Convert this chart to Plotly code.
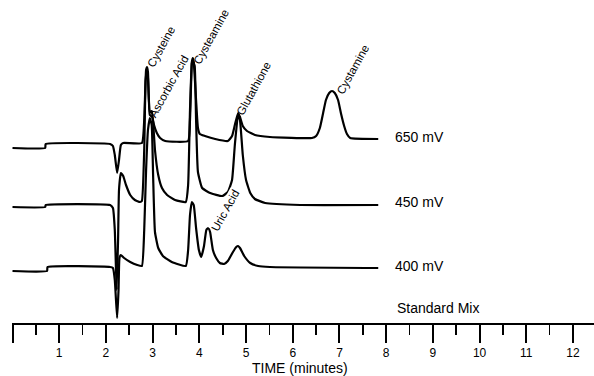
import plotly.graph_objects as go

# ---- data (time in minutes, detector signal in arbitrary units, offset per trace) ----
t_650 = [0.00, 0.70, 0.71, 2.09, 2.15, 2.19, 2.24, 2.28, 2.32, 2.37, 2.77, 2.82, 2.86, 2.88, 2.90,
         2.92, 2.94, 2.99, 3.03, 3.09, 3.16, 3.27, 3.76, 3.80, 3.84, 3.86, 3.88, 3.93, 3.97, 4.01,
         4.12, 4.34, 4.61, 4.70, 4.76, 4.83, 4.87, 4.93, 5.02, 5.19, 5.51, 6.41, 6.50, 6.58, 6.65,
         6.71, 6.78, 6.84, 6.90, 6.97, 7.03, 7.10, 7.16, 7.23, 7.83]
s_650 = [175, 175, 179, 179, 177, 168, 150, 163, 178, 180, 180, 203, 253, 256, 251,
         223, 208, 206, 198, 190, 185, 182, 182, 203, 261, 265, 261, 223, 195, 189,
         187, 184, 182, 187, 198, 210, 206, 197, 192, 188, 186, 185, 187, 195, 210,
         223, 230, 232, 230, 223, 210, 197, 189, 185, 184]

t_450 = [0.00, 0.70, 0.71, 2.09, 2.15, 2.19, 2.23, 2.26, 2.28, 2.32, 2.37, 2.43, 2.52, 2.62, 2.73,
         2.77, 2.82, 2.85, 2.88, 2.90, 2.94, 2.98, 3.01, 3.05, 3.12, 3.20, 3.31, 3.48, 3.71, 3.76,
         3.80, 3.84, 3.86, 3.90, 3.93, 3.97, 4.06, 4.23, 4.49, 4.61, 4.70, 4.76, 4.83, 4.87, 4.93,
         5.00, 5.09, 5.19, 5.41, 6.16, 7.83]
s_450 = [116, 116, 118, 118, 115, 93, 33, 83, 133, 150, 147, 138, 128, 123, 121,
         122, 173, 243, 253, 245, 211, 212, 201, 173, 148, 135, 128, 123, 121, 138,
         213, 260, 262, 257, 203, 151, 135, 130, 127, 131, 143, 178, 209, 203, 168,
         143, 130, 124, 120, 118, 118]

t_400 = [0.00, 0.74, 0.75, 2.09, 2.15, 2.19, 2.24, 2.27, 2.29, 2.32, 2.39, 2.52, 2.67, 2.77, 2.82,
         2.86, 2.90, 2.94, 2.98, 3.01, 3.05, 3.12, 3.22, 3.41, 3.71, 3.76, 3.80, 3.84, 3.88, 3.93,
         3.99, 4.04, 4.10, 4.15, 4.19, 4.23, 4.29, 4.36, 4.44, 4.53, 4.61, 4.72, 4.79, 4.83, 4.87,
         4.96, 5.09, 5.26, 5.51, 7.83]
s_400 = [52, 52, 56, 56, 55, 43, 5, 33, 65, 68, 65, 61, 58, 57, 93,
         153, 193, 205, 198, 148, 91, 75, 67, 61, 57, 73, 108, 121, 118, 95,
         73, 66, 77, 93, 95, 91, 73, 65, 60, 59, 62, 71, 76, 77, 75,
         67, 60, 57, 56, 55]

trace_labels = ["650 mV", "450 mV", "400 mV", "Standard Mix"]
peak_names = ["Cysteine", "Ascorbic Acid", "Cysteamine", "Glutathione", "Cystamine", "Uric Acid"]
tick_vals = list(range(0, 13))
tick_text = [""] + [str(i) for i in range(1, 13)]
minor_vals = [i + 0.5 for i in range(0, 13)]

# ---- figure ----
fig = go.Figure()
line_style = dict(color="black", width=2.2, shape="spline", smoothing=0.4)
for tx, sy in [(t_650, s_650), (t_450, s_450), (t_400, s_400)]:
    fig.add_trace(go.Scatter(x=tx, y=sy, mode="lines", line=line_style,
                             hoverinfo="skip", showlegend=False))

font_family = "Liberation Sans, Arial, Helvetica, sans-serif"

# right-hand trace labels
label_pos = [(8.15, 186), (8.15, 121), (8.15, 57), (8.19, 15)]
for txt, (lx, ly) in zip(trace_labels, label_pos):
    fig.add_annotation(x=lx, y=ly, text=txt, showarrow=False, xanchor="left", yanchor="middle",
                       font=dict(family=font_family, size=14, color="black"))

# peak labels (rotated)
peak_pos = [(3.18, 276), (3.35, 237), (4.25, 286), (5.17, 235), (7.28, 253), (4.55, 112)]
for name, (px, py) in zip(peak_names, peak_pos):
    fig.add_annotation(x=px, y=py, text=name, showarrow=False, textangle=-61,
                       xanchor="center", yanchor="middle",
                       bgcolor="white" if name == "Uric Acid" else "rgba(0,0,0,0)",
                       borderpad=0,
                       font=dict(family=font_family, size=11.5, color="black"))

# axis title
fig.add_annotation(xref="paper", yref="paper", x=0.4948, y=0, yshift=-45,
                   text="TIME (minutes)", showarrow=False, xanchor="center", yanchor="middle",
                   font=dict(family=font_family, size=14, color="black"))

fig.update_layout(
    width=594, height=376,
    margin=dict(l=12, r=0, t=0, b=53, pad=0),
    paper_bgcolor="white", plot_bgcolor="white",
    showlegend=False,
    xaxis=dict(range=[-0.0107, 12.449], showline=True, linewidth=2, linecolor="black",
               ticks="outside", ticklen=18, tickwidth=2, tickcolor="black",
               tickmode="array", tickvals=tick_vals, ticktext=tick_text,
               showgrid=False, zeroline=False, fixedrange=True,
               tickfont=dict(family=font_family, size=12, color="black"),
               minor=dict(tickmode="array", tickvals=minor_vals, ticks="outside",
                          ticklen=10, tickwidth=1.6, tickcolor="black", showgrid=False)),
    yaxis=dict(range=[0, 323], visible=False, fixedrange=True),
)

fig.write_html("out.html", config={"displayModeBar": False, "staticPlot": True},
               post_script="document.body.style.margin='0px';document.body.style.padding='0px';")
